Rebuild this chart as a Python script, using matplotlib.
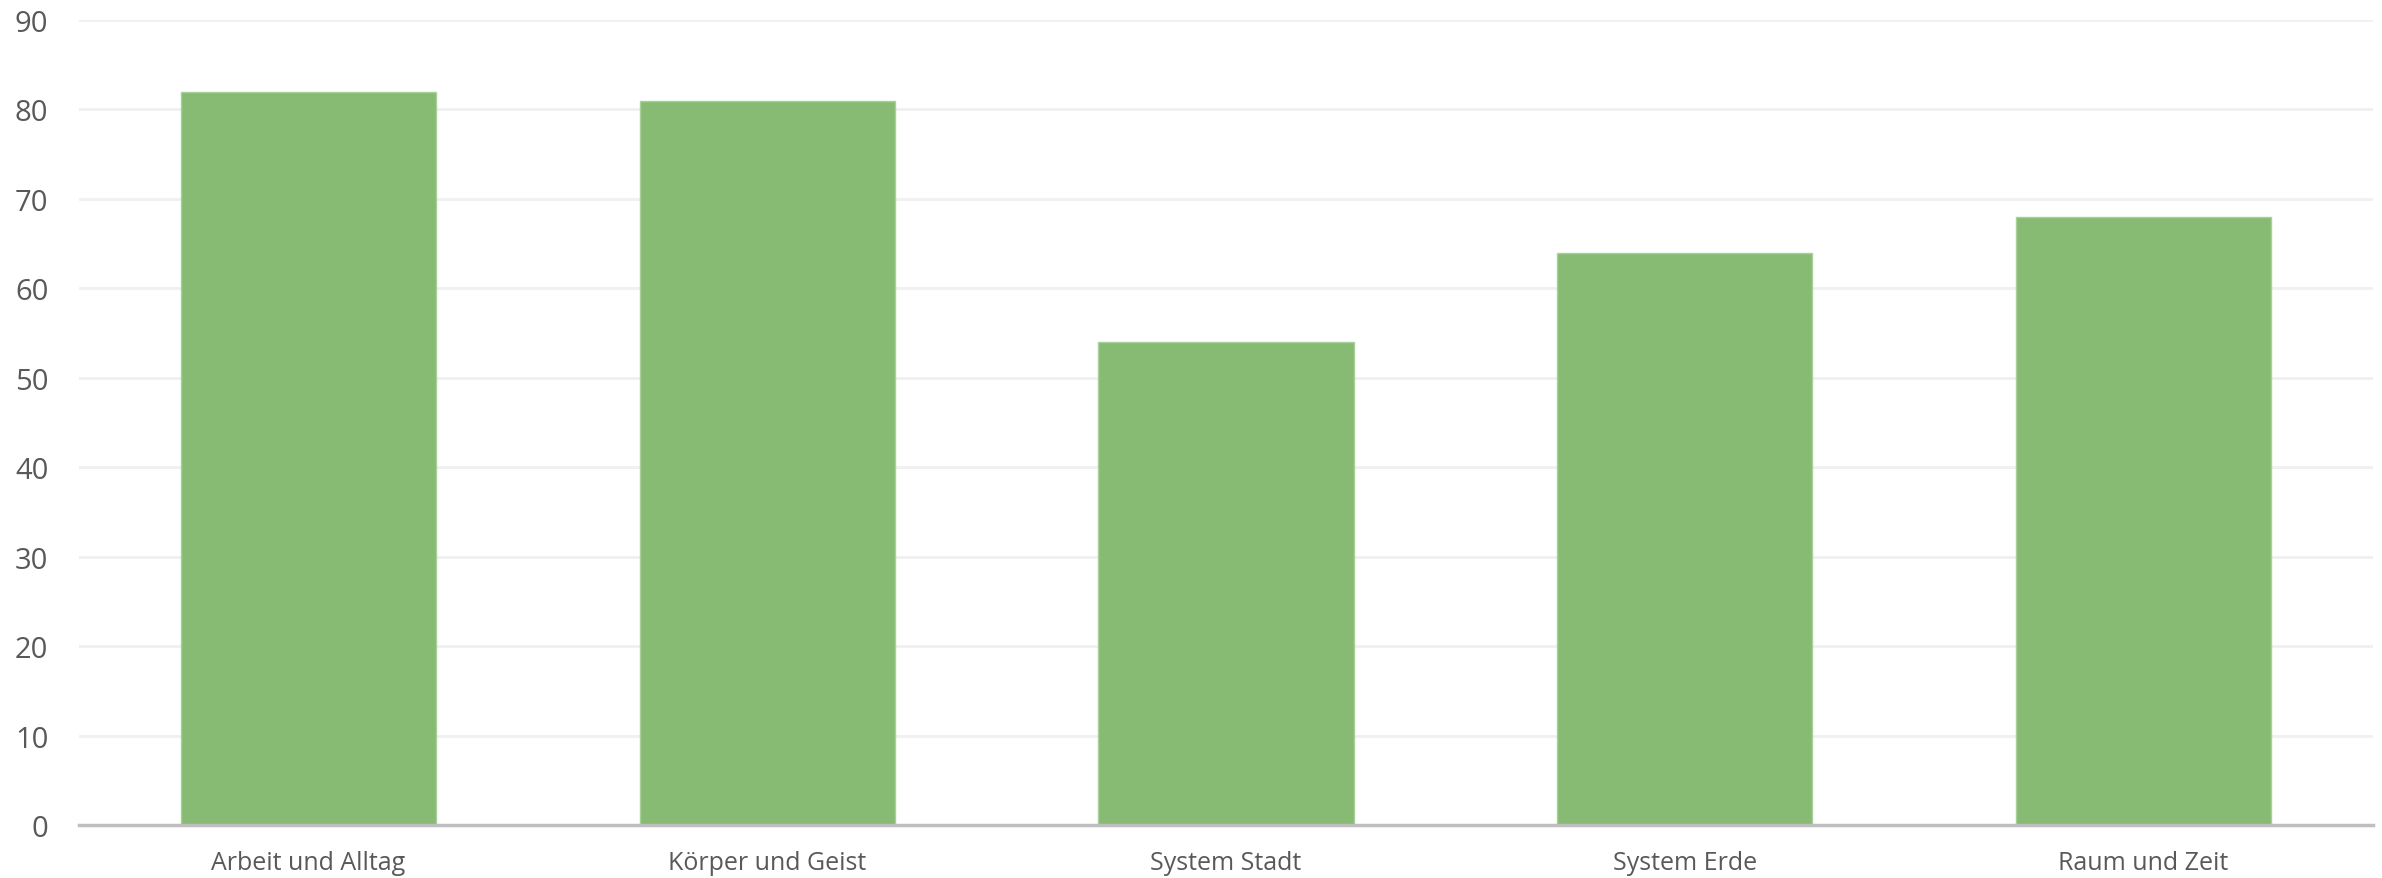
import matplotlib.pyplot as plt

# categories and values
categories = ['Arbeit und Alltag', 'Körper und Geist', 'System Stadt', 'System Erde', 'Raum und Zeit']
values = [82, 81, 54, 64, 68]
y_ticks = [0, 10, 20, 30, 40, 50, 60, 70, 80, 90]

plt.rcParams['font.family'] = ['Open Sans', 'DejaVu Sans']

fig = plt.figure(figsize=(23.82, 8.79), dpi=100)
ax = fig.add_axes([79 / 2382, 1 - 826 / 879, (2373 - 79) / 2382, (826 - 21) / 879])

x = range(len(categories))
ax.bar(x, values, width=0.556, color='#87BB73', edgecolor='#A9D09A', linewidth=1, zorder=3)

ax.set_xlim(-0.5, len(categories) - 0.5)
ax.set_ylim(0, 90)
ax.set_yticks(y_ticks)
ax.set_xticks(list(x))
ax.set_xticklabels(categories)

ax.grid(axis='y', color='#F0F0F0', linewidth=2, zorder=0)
for side in ['top', 'right', 'left']:
    ax.spines[side].set_visible(False)
ax.spines['bottom'].set_color('#BFBFBF')
ax.spines['bottom'].set_linewidth(2.5)
ax.spines['bottom'].set_zorder(4)

ax.tick_params(axis='y', length=0, pad=22, labelsize=21, labelcolor='#595959')
ax.tick_params(axis='x', length=0, pad=18, labelsize=18, labelcolor='#595959')

fig.savefig('out.png', dpi=100)
